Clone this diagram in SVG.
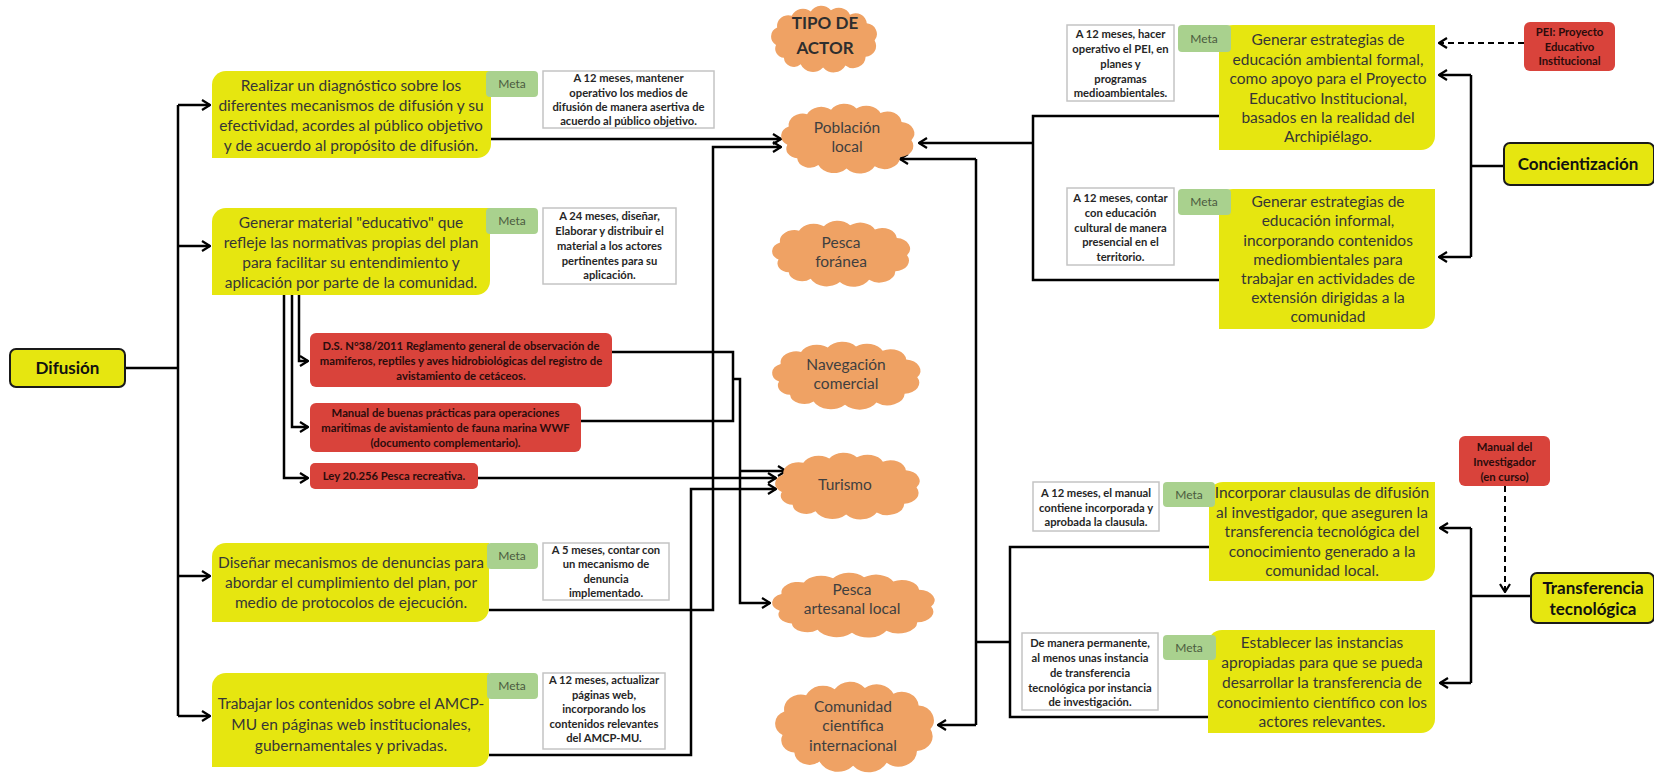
<svg xmlns="http://www.w3.org/2000/svg" width="1654" height="773" viewBox="0 0 1654 773">
  <style>
    text { font-family: Lato, "Open Sans", "Liberation Sans", sans-serif; text-anchor: middle; }
    .yb { fill: #e6e610; }
    .yt { font-size: 15.5px; fill: #363636; }
    .meta { fill: #a9d18e; }
    .mt { font-size: 12px; fill: #4b5b3f; }
    .wb { fill: #ffffff; stroke: #c4c4c4; stroke-width: 1.5; }
    .wt { font-size: 11.2px; font-weight: bold; fill: #262626; }
    .rb { fill: #d9433b; }
    .rt { font-size: 11.3px; font-weight: bold; fill: #2b0c0c; }
    .cl { fill: #efa264; }
    .ct { font-size: 15.5px; fill: #3f3f3f; }
    .cat { fill: #e6e610; stroke: #1a1a1a; stroke-width: 2; }
    .catt { font-size: 17px; font-weight: bold; fill: #111111; }
    .ln { fill: none; stroke: #000000; stroke-width: 2.5; }
    .dash { stroke-width: 2; stroke-dasharray: 6 4; }
  </style>
  <defs>
    <marker id="arr" viewBox="0 0 10 12" refX="9" refY="6" markerWidth="10" markerHeight="12" markerUnits="userSpaceOnUse" orient="auto">
      <path d="M1,1 L9,6 L1,11" fill="none" stroke="#000" stroke-width="2.2"/>
    </marker>
    <!-- generic cloud outline, roughly 96 x 61 units -->
    <path id="cloud" d="M6,36 A9,9 0 0 1 7,20 A10,10 0 0 1 20,9 A11,11 0 0 1 37,5 A11,11 0 0 1 55,4 A11,11 0 0 1 72,8 A10,10 0 0 1 87,16 A10,10 0 0 1 94,32 A10,10 0 0 1 86,47 A11,11 0 0 1 68,55 A12,12 0 0 1 48,57 A12,12 0 0 1 28,54 A9,9 0 0 1 13,48 A8.5,8.5 0 0 1 6,36 Z"/>
  </defs>

  <rect width="1654" height="773" fill="#ffffff"/>

  <!-- connectors -->
  <g id="connectors" class="ln">
    <!-- Difusión trunk -->
    <path d="M125,368 H178"/>
    <path d="M178,105 V716"/>
    <path d="M178,105 H210" marker-end="url(#arr)"/>
    <path d="M178,246 H210" marker-end="url(#arr)"/>
    <path d="M178,576 H210" marker-end="url(#arr)"/>
    <path d="M178,716 H210" marker-end="url(#arr)"/>
    <!-- material educativo to norms -->
    <path d="M299,295 V361 H308" marker-end="url(#arr)"/>
    <path d="M292,295 V427 H308" marker-end="url(#arr)"/>
    <path d="M284,295 V478 H308" marker-end="url(#arr)"/>
    <!-- norms to actors -->
    <path d="M612,352 H733 V421 H581"/>
    <path d="M733,379 H740 V603 H770" marker-end="url(#arr)"/>
    <path d="M740,471 H786" marker-end="url(#arr)"/>
    <path d="M478,478 H776" marker-end="url(#arr)"/>
    <!-- objectives to actors -->
    <path d="M491,139 H781" marker-end="url(#arr)"/>
    <path d="M489,610 H713 V147 H781" marker-end="url(#arr)"/>
    <path d="M489,755 H691 V489 H776" marker-end="url(#arr)"/>
    <!-- Concientización side -->
    <path d="M1219,116 H1033 V280 H1219"/>
    <path d="M1033,143 H919" marker-end="url(#arr)"/>
    <path d="M1504,166 H1471"/>
    <path d="M1471,75 V257"/>
    <path d="M1471,75 H1439" marker-end="url(#arr)"/>
    <path d="M1471,257 H1439" marker-end="url(#arr)"/>
    <path class="dash" d="M1524,43 H1439" marker-end="url(#arr)"/>
    <!-- Transferencia side -->
    <path d="M1209,547 H1010 V717 H1208"/>
    <path d="M1010,642 H976"/>
    <path d="M976,159 V725"/>
    <path d="M976,159 H900" marker-end="url(#arr)"/>
    <path d="M976,725 H938" marker-end="url(#arr)"/>
    <path d="M1531,596 H1471"/>
    <path d="M1471,528 V683"/>
    <path d="M1471,528 H1440" marker-end="url(#arr)"/>
    <path d="M1471,683 H1440" marker-end="url(#arr)"/>
    <path class="dash" d="M1505,486 V592" marker-end="url(#arr)"/>
  </g>

  <!-- category boxes -->
  <g id="difusion">
    <rect class="cat" x="10" y="349" width="115" height="38" rx="6"/>
    <text class="catt" x="67.5" y="374">Difusión</text>
  </g>
  <g id="concientizacion">
    <rect class="cat" x="1504" y="143" width="150" height="42" rx="6"/>
    <text class="catt" x="1578" y="170">Concientización</text>
  </g>
  <g id="transferencia">
    <rect class="cat" x="1531" y="573" width="123" height="50" rx="6"/>
    <text class="catt" x="1593" y="594">Transferencia</text>
    <text class="catt" x="1593" y="615">tecnológica</text>
  </g>

  <!-- Difusión objectives -->
  <g id="obj-diagnostico">
    <path class="yb" d="M226,71 H491 V144 A14,14 0 0 1 477,158 H212 V85 A14,14 0 0 1 226,71 Z"/>
    <text class="yt" x="351" y="91">Realizar un diagnóstico sobre los</text>
    <text class="yt" x="351" y="111">diferentes mecanismos de difusión y su</text>
    <text class="yt" x="351" y="131">efectividad, acordes  al público objetivo</text>
    <text class="yt" x="351" y="151">y de acuerdo al propósito de difusión.</text>
    <rect class="meta" x="486" y="71" width="52" height="26" rx="4"/>
    <text class="mt" x="512" y="88">Meta</text>
    <rect class="wb" x="543" y="71" width="171" height="57"/>
    <text class="wt" x="628.5" y="82">A 12 meses, mantener</text>
    <text class="wt" x="628.5" y="96.5">operativo los medios de</text>
    <text class="wt" x="628.5" y="111">difusión de manera asertiva de</text>
    <text class="wt" x="628.5" y="125">acuerdo al público objetivo.</text>
  </g>
  <g id="obj-material">
    <path class="yb" d="M226,208 H490 V281 A14,14 0 0 1 476,295 H212 V222 A14,14 0 0 1 226,208 Z"/>
    <text class="yt" x="351" y="228">Generar material "educativo" que</text>
    <text class="yt" x="351" y="248">refleje las normativas propias del plan</text>
    <text class="yt" x="351" y="268">para facilitar su entendimiento y</text>
    <text class="yt" x="351" y="288">aplicación por parte de la comunidad.</text>
    <rect class="meta" x="486" y="208" width="52" height="26" rx="4"/>
    <text class="mt" x="512" y="225">Meta</text>
    <rect class="wb" x="543" y="208" width="133" height="76"/>
    <text class="wt" x="609.5" y="220">A 24 meses, diseñar,</text>
    <text class="wt" x="609.5" y="235">Elaborar y distribuir el</text>
    <text class="wt" x="609.5" y="250">material a los actores</text>
    <text class="wt" x="609.5" y="265">pertinentes para su</text>
    <text class="wt" x="609.5" y="279">aplicación.</text>
  </g>
  <g id="obj-denuncias">
    <path class="yb" d="M226,543 H489 V608 A14,14 0 0 1 475,622 H212 V557 A14,14 0 0 1 226,543 Z"/>
    <text class="yt" x="351" y="568">Diseñar mecanismos de denuncias para</text>
    <text class="yt" x="351" y="588">abordar el cumplimiento del plan, por</text>
    <text class="yt" x="351" y="608">medio de protocolos de ejecución.</text>
    <rect class="meta" x="487" y="543" width="51" height="26" rx="4"/>
    <text class="mt" x="512" y="560">Meta</text>
    <rect class="wb" x="543" y="543" width="126" height="57"/>
    <text class="wt" x="606" y="554">A 5 meses, contar con</text>
    <text class="wt" x="606" y="568">un mecanismo de</text>
    <text class="wt" x="606" y="583">denuncia</text>
    <text class="wt" x="606" y="597">implementado.</text>
  </g>
  <g id="obj-paginas">
    <path class="yb" d="M226,673 H489 V753 A14,14 0 0 1 475,767 H212 V687 A14,14 0 0 1 226,673 Z"/>
    <text class="yt" x="351" y="709">Trabajar los contenidos sobre el AMCP-</text>
    <text class="yt" x="351" y="730">MU en páginas web institucionales,</text>
    <text class="yt" x="351" y="751">gubernamentales y privadas.</text>
    <rect class="meta" x="487" y="673" width="51" height="26" rx="4"/>
    <text class="mt" x="512" y="690">Meta</text>
    <rect class="wb" x="543" y="673" width="122" height="76"/>
    <text class="wt" x="604" y="684">A 12 meses, actualizar</text>
    <text class="wt" x="604" y="699">páginas web,</text>
    <text class="wt" x="604" y="713">incorporando los</text>
    <text class="wt" x="604" y="728">contenidos relevantes</text>
    <text class="wt" x="604" y="742">del AMCP-MU.</text>
  </g>

  <!-- norms -->
  <g id="norma-ds">
    <rect class="rb" x="310" y="333" width="302" height="54" rx="6"/>
    <text class="rt" x="461" y="350">D.S. N°38/2011 Reglamento general de observación de</text>
    <text class="rt" x="461" y="365">mamiferos, reptiles y aves hidrobiológicas del registro de</text>
    <text class="rt" x="461" y="380">avistamiento de cetáceos.</text>
  </g>
  <g id="norma-wwf">
    <rect class="rb" x="310" y="403" width="271" height="49" rx="6"/>
    <text class="rt" x="445.5" y="417">Manual de buenas prácticas para operaciones</text>
    <text class="rt" x="445.5" y="432">maritimas de avistamiento de fauna marina WWF</text>
    <text class="rt" x="445.5" y="447">(documento complementario).</text>
  </g>
  <g id="norma-ley">
    <rect class="rb" x="310" y="463" width="168" height="26" rx="5"/>
    <text class="rt" x="394" y="480">Ley 20.256 Pesca recreativa.</text>
  </g>

  <!-- actor types -->
  <g id="tipo-actor">
    <use href="#cloud" class="cl" transform="translate(771,6) scale(1.12,1.08) translate(-1.5,0)"/>
    <text class="catt" x="825" y="29" style="font-size:17px;fill:#2e2e2e">TIPO DE</text>
    <text class="catt" x="825" y="54" style="font-size:17px;fill:#2e2e2e">ACTOR</text>
  </g>
  <g id="actor-poblacion">
    <use href="#cloud" class="cl" transform="translate(781,104) scale(1.41,1.13) translate(-1.5,0)"/>
    <text class="ct" x="847" y="133">Población</text>
    <text class="ct" x="847" y="152">local</text>
  </g>
  <g id="actor-pesca-foranea">
    <use href="#cloud" class="cl" transform="translate(772,221) scale(1.46,1.07) translate(-1.5,0)"/>
    <text class="ct" x="841" y="248">Pesca</text>
    <text class="ct" x="841" y="267">foránea</text>
  </g>
  <g id="actor-navegacion">
    <use href="#cloud" class="cl" transform="translate(772,342) scale(1.57,1.10) translate(-1.5,0)"/>
    <text class="ct" x="846" y="370">Navegación</text>
    <text class="ct" x="846" y="389">comercial</text>
  </g>
  <g id="actor-turismo">
    <use href="#cloud" class="cl" transform="translate(775,453) scale(1.53,1.08) translate(-1.5,0)"/>
    <text class="ct" x="845" y="490">Turismo</text>
  </g>
  <g id="actor-pesca-artesanal">
    <use href="#cloud" class="cl" transform="translate(772,573) scale(1.72,1.05) translate(-1.5,0)"/>
    <text class="ct" x="852" y="595">Pesca</text>
    <text class="ct" x="852" y="614">artesanal local</text>
  </g>
  <g id="actor-comunidad">
    <use href="#cloud" class="cl" transform="translate(775,682) scale(1.68,1.47) translate(-1.5,0)"/>
    <text class="ct" x="853" y="712">Comunidad</text>
    <text class="ct" x="853" y="731">científica</text>
    <text class="ct" x="853" y="751">internacional</text>
  </g>

  <!-- Concientización objectives -->
  <g id="obj-educacion-formal">
    <path class="yb" d="M1233,25 H1435 V136 A14,14 0 0 1 1421,150 H1219 V39 A14,14 0 0 1 1233,25 Z"/>
    <text class="yt" x="1328" y="45">Generar estrategias de</text>
    <text class="yt" x="1328" y="65">educación ambiental formal,</text>
    <text class="yt" x="1328" y="84">como apoyo para el Proyecto</text>
    <text class="yt" x="1328" y="104">Educativo Institucional,</text>
    <text class="yt" x="1328" y="123">basados en la realidad del</text>
    <text class="yt" x="1328" y="142">Archipiélago.</text>
    <rect class="meta" x="1178" y="25" width="53" height="27" rx="4"/>
    <text class="mt" x="1204" y="43">Meta</text>
    <rect class="wb" x="1067" y="25" width="107" height="76"/>
    <text class="wt" x="1120.5" y="38">A 12 meses, hacer</text>
    <text class="wt" x="1120.5" y="53">operativo el PEI, en</text>
    <text class="wt" x="1120.5" y="68">planes y</text>
    <text class="wt" x="1120.5" y="83">programas</text>
    <text class="wt" x="1120.5" y="97">medioambientales.</text>
  </g>
  <g id="obj-educacion-informal">
    <path class="yb" d="M1233,189 H1435 V315 A14,14 0 0 1 1421,329 H1219 V203 A14,14 0 0 1 1233,189 Z"/>
    <text class="yt" x="1328" y="207">Generar estrategias de</text>
    <text class="yt" x="1328" y="226">educación informal,</text>
    <text class="yt" x="1328" y="246">incorporando contenidos</text>
    <text class="yt" x="1328" y="265">mediombientales para</text>
    <text class="yt" x="1328" y="284">trabajar en actividades de</text>
    <text class="yt" x="1328" y="303">extensión dirigidas a la</text>
    <text class="yt" x="1328" y="322">comunidad</text>
    <rect class="meta" x="1178" y="189" width="53" height="26" rx="4"/>
    <text class="mt" x="1204" y="206">Meta</text>
    <rect class="wb" x="1067" y="188" width="107" height="77"/>
    <text class="wt" x="1120.5" y="202">A 12 meses, contar</text>
    <text class="wt" x="1120.5" y="217">con educación</text>
    <text class="wt" x="1120.5" y="232">cultural de manera</text>
    <text class="wt" x="1120.5" y="246">presencial en el</text>
    <text class="wt" x="1120.5" y="261">territorio.</text>
  </g>
  <g id="pei">
    <rect class="rb" x="1524" y="22" width="91" height="49" rx="6"/>
    <text class="rt" x="1569.5" y="36">PEI: Proyecto</text>
    <text class="rt" x="1569.5" y="51">Educativo</text>
    <text class="rt" x="1569.5" y="65">Institucional</text>
  </g>

  <!-- Transferencia objectives -->
  <g id="obj-clausulas">
    <path class="yb" d="M1223,482 H1435 V567 A14,14 0 0 1 1421,581 H1209 V496 A14,14 0 0 1 1223,482 Z"/>
    <text class="yt" x="1322" y="498">Incorporar clausulas de difusión</text>
    <text class="yt" x="1322" y="518">al investigador, que aseguren la</text>
    <text class="yt" x="1322" y="537">transferencia tecnológica del</text>
    <text class="yt" x="1322" y="557">conocimiento generado a la</text>
    <text class="yt" x="1322" y="576">comunidad local.</text>
    <rect class="meta" x="1163" y="482" width="52" height="25" rx="4"/>
    <text class="mt" x="1189" y="499">Meta</text>
    <rect class="wb" x="1033" y="482" width="126" height="49"/>
    <text class="wt" x="1096" y="497">A 12 meses, el manual</text>
    <text class="wt" x="1096" y="512">contiene incorporada y</text>
    <text class="wt" x="1096" y="526">aprobada la clausula.</text>
  </g>
  <g id="obj-instancias">
    <path class="yb" d="M1222,630 H1435 V719 A14,14 0 0 1 1421,733 H1208 V644 A14,14 0 0 1 1222,630 Z"/>
    <text class="yt" x="1322" y="648">Establecer las instancias</text>
    <text class="yt" x="1322" y="668">apropiadas para que se pueda</text>
    <text class="yt" x="1322" y="688">desarrollar la transferencia de</text>
    <text class="yt" x="1322" y="708">conocimiento científico con los</text>
    <text class="yt" x="1322" y="727">actores relevantes.</text>
    <rect class="meta" x="1163" y="635" width="53" height="25" rx="4"/>
    <text class="mt" x="1189" y="652">Meta</text>
    <rect class="wb" x="1022" y="633" width="136" height="77"/>
    <text class="wt" x="1090" y="647">De manera permanente,</text>
    <text class="wt" x="1090" y="662">al menos unas instancia</text>
    <text class="wt" x="1090" y="677">de transferencia</text>
    <text class="wt" x="1090" y="692">tecnológica por instancia</text>
    <text class="wt" x="1090" y="706">de investigación.</text>
  </g>
  <g id="manual-investigador">
    <rect class="rb" x="1459" y="436" width="91" height="50" rx="6"/>
    <text class="rt" x="1504.5" y="451">Manual del</text>
    <text class="rt" x="1504.5" y="466">Investigador</text>
    <text class="rt" x="1504.5" y="481">(en curso)</text>
  </g>
</svg>
